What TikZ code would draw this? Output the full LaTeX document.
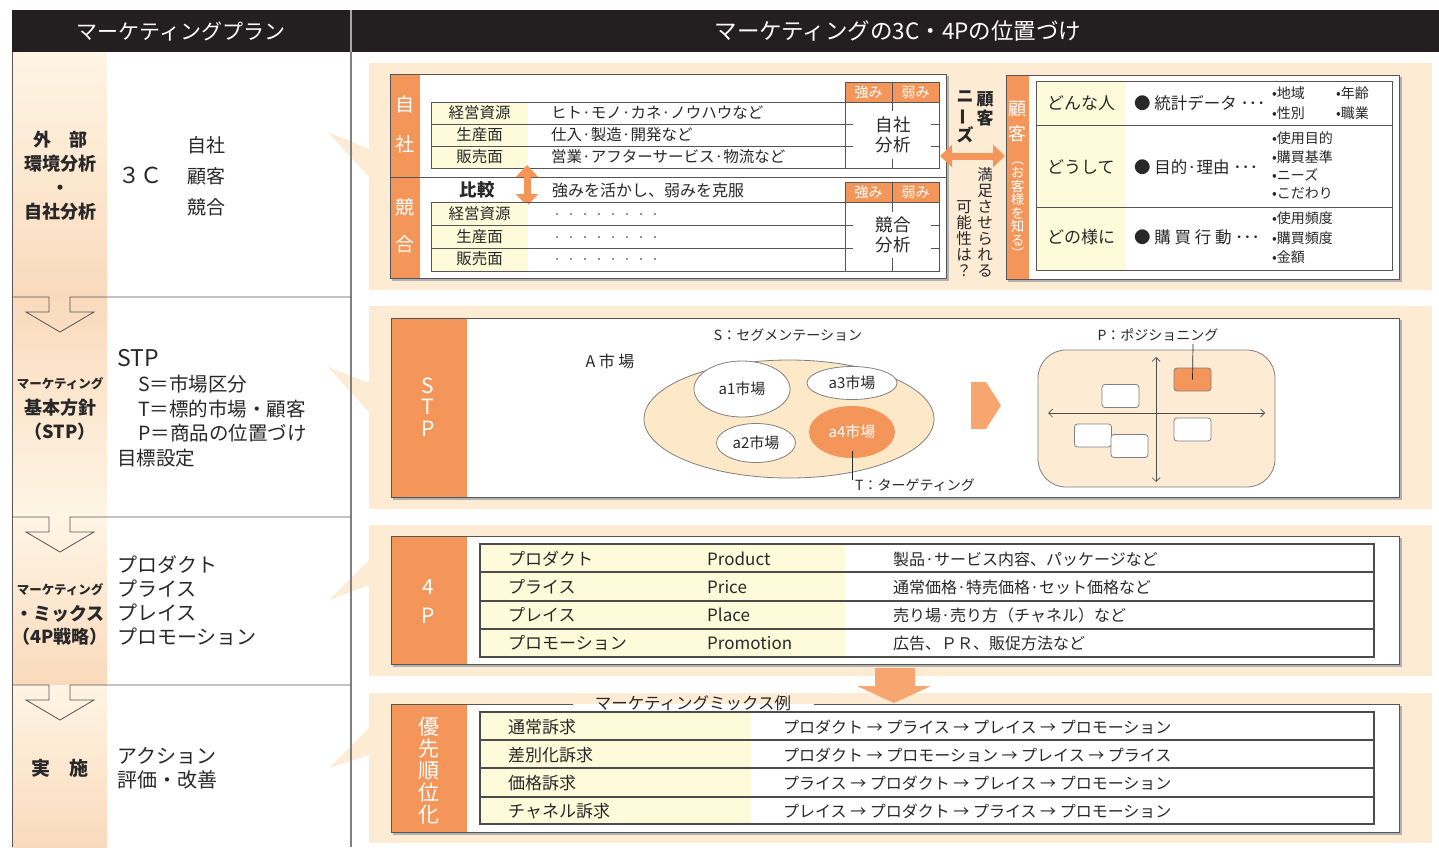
\documentclass[tikz,border=0pt]{standalone}
\usepackage{fontspec}
\setmainfont{Noto Sans CJK JP}
\usetikzlibrary{arrows.meta,shapes.geometric}
\definecolor{org}{RGB}{244,150,90}
\definecolor{orgl}{RGB}{247,166,112}
\definecolor{pch}{RGB}{253,235,212}
\definecolor{ellf}{RGB}{253,232,200}
\definecolor{ylw}{RGB}{254,251,218}
\definecolor{lgry}{RGB}{85,85,85}
\definecolor{hdr}{RGB}{35,31,32}
\definecolor{txt}{RGB}{40,40,40}
\definecolor{gtop}{RGB}{254,245,228}
\definecolor{gbot}{RGB}{250,218,188}
\newcommand{\myvbar}{\rotatebox[origin=c]{90}{ー}}
\tikzset{
  hd/.style={text=white, font=\fontsize{21}{24}\selectfont, inner sep=0pt},
  lab/.style={text=txt, font=\bfseries\fontsize{18}{24}\selectfont, inner sep=0pt, align=center},
  big/.style={text=txt, font=\fontsize{20}{24}\selectfont, inner sep=0pt, anchor=west, align=left},
  tb/.style={text=txt, font=\fontsize{15.5}{18}\selectfont, inner sep=0pt},
  tbw/.style={tb, anchor=west},
  hw/.style={text=white, font=\fontsize{14}{16}\selectfont, inner sep=0pt},
  sm/.style={text=txt, font=\fontsize{14}{16}\selectfont, inner sep=0pt, anchor=west},
  sm2/.style={text=txt, font=\fontsize{14}{16}\selectfont, inner sep=0pt},
  ln/.style={draw=lgry, line width=0.8pt},
  tl/.style={draw=lgry!90!black, line width=1.1pt},
  vw/.style={text=white, inner sep=0pt, align=center},
  mkt/.style={ellipse, draw=gray, line width=0.8pt, fill=white, inner sep=0pt, text=txt, font=\fontsize{15}{17}\selectfont},
  sq/.style={draw=gray, line width=0.8pt, fill=white, rounded corners=3pt, minimum width=37pt, minimum height=23pt, inner sep=0pt},
  shd/.style={draw=gray!60, line width=1.2pt},
  dbl/.style={org, line width=7pt, {Triangle[width=22pt,length=12pt]}-{Triangle[width=22pt,length=12pt]}},
}
\begin{document}
\begin{tikzpicture}[x=1pt,y=-1pt]
\useasboundingbox (0,0) rectangle (1439,847);
\fill[white] (0,0) rectangle (1439,847);

% ---------- header
\fill[hdr] (12,10) rectangle (1439,52);
\draw[gray!70, line width=1.2pt] (351,10) -- (351,52);
\node[hd] (hL) at (181,31) {マーケティングプラン};
\node[hd, font=\fontsize{22.5}{24}\selectfont] (hR) at (898,31) {マーケティングの3C・4Pの位置づけ};

% ---------- left column background
\shade[top color=gtop, bottom color=gbot] (12,52) rectangle (107,297);
\shade[top color=gbot, bottom color=gtop] (12,297) rectangle (107,517);
\shade[top color=gtop, bottom color=gbot] (12,517) rectangle (107,685);
\shade[top color=gtop, bottom color=gbot] (12,685) rectangle (107,847);

% ---------- peach panels
\fill[pch] (369,63) rectangle (1432,290);
\fill[pch] (369,306) rectangle (1432,509);
\fill[pch] (369,525) rectangle (1432,676);
\fill[pch] (369,693) rectangle (1432,843);

% wedges
\fill[pch] (328,132) -- (369,149) -- (369,177) -- cycle;
\fill[pch] (328,367) -- (369,383) -- (369,412) -- cycle;
\fill[pch] (329,600) -- (369,560) -- (369,585) -- cycle;
\fill[pch] (329,768) -- (369,728) -- (369,755) -- cycle;

% left column borders
\draw[lgry, line width=0.8pt] (12,52) -- (12,847);
\draw[gray, line width=1.5pt] (351,52) -- (351,847);
\foreach \y in {297,517,685} {
  \draw[lgry, line width=0.8pt] (12,\y) -- (49,\y) -- (49,\y+15) -- (26,\y+15) -- (60,\y+35) -- (94,\y+15) -- (70,\y+15) -- (70,\y) -- (351,\y);
}

% left column texts
\node[lab] (l1) at (60,176) {外　部\\環境分析\\・\\自社分析};
\node[text=txt, font=\fontsize{22}{24}\selectfont, inner sep=0pt] (c3) at (140,175) {３Ｃ};
\node[lab, font=\fontsize{19}{31}\selectfont] (c3l) at (206,176) {自社\\顧客\\競合};

\node[lab, font=\bfseries\fontsize{12.5}{14}\selectfont] (l2a) at (60,384) {マーケティング};
\node[lab] (l2b) at (60,420) {基本方針\\（STP）};
\node[big, font=\fontsize{23}{26}\selectfont] (s0) at (117,358) {STP};
\node[big, font=\fontsize{19.5}{24.5}\selectfont] (s1) at (138,409) {S＝市場区分\\T＝標的市場・顧客\\P＝商品の位置づけ};
\node[big, font=\fontsize{19.5}{24.5}\selectfont] (s2) at (117,458) {目標設定};

\node[lab, font=\bfseries\fontsize{12.5}{14}\selectfont] (l3a) at (60,590) {マーケティング};
\node[lab, font=\bfseries\fontsize{18}{23}\selectfont] (l3b) at (60,625) {・ミックス\\（4P戦略）};
\node[big] (p4) at (117,601) {プロダクト\\プライス\\プレイス\\プロモーション};

\node[lab, font=\bfseries\fontsize{19}{24}\selectfont] (l4) at (60,768) {実　施};
\node[big] (ac) at (117,768.5) {アクション\\評価・改善};

% ================= Panel 1 : 3C
\draw[shd] (392,280) -- (948,280) -- (948,76);
\draw[ln, fill=white] (390,74) rectangle (946,278);
\fill[org] (390,74) rectangle (420,278);
\draw[ln] (390,74) rectangle (946,278);
\draw[ln] (390,177) -- (946,177);
\node[vw, font=\fontsize{19}{21}\selectfont] (ji) at (405,104) {自};
\node[vw, font=\fontsize{19}{21}\selectfont] (sha) at (405,144) {社};
\node[vw, font=\fontsize{19}{21}\selectfont] (kyo) at (405,207) {競};
\node[vw, font=\fontsize{19}{21}\selectfont] (go) at (405,244) {合};

% table 自社
\fill[ylw] (431,102) rectangle (528,168);
\draw[ln] (431,102) rectangle (939,168);
\draw[ln] (431,124) -- (853,124) (431,146) -- (853,146) (931,124) -- (939,124) (931,146) -- (939,146);
\fill[org] (845,82) rectangle (939,102);
\draw[ln] (845,82) rectangle (939,168);
\draw[ln] (845,102) -- (939,102);
\draw[ln] (892,82) -- (892,111) (892,159) -- (892,168);
\node[hw] (k1) at (868.5,92) {強み};
\node[hw] (y1) at (915.5,92) {弱み};
\node[tb] (r1a) at (479.5,113) {経営資源};
\node[tb] (r1b) at (479.5,135) {生産面};
\node[tb] (r1c) at (479.5,157) {販売面};
\node[tbw] (d1a) at (551,113) {ヒト·モノ·カネ·ノウハウなど};
\node[tbw] (d1b) at (551,135) {仕入·製造·開発など};
\node[tbw] (d1c) at (551,157) {営業·アフターサービス·物流など};
\node[tb, font=\fontsize{17.5}{20}\selectfont, align=center] (an1) at (893,135) {自社\\分析};

% compare row
\node[tb, font=\bfseries\fontsize{17.5}{20}\selectfont] (hik) at (477,190) {比較};
\coordinate (ca) at (527,165);
\coordinate (cb) at (527,206);
\draw[dbl] (ca) -- (cb);
\node[tbw, font=\fontsize{16}{18}\selectfont] (kat) at (552,190) {強みを活かし、弱みを克服};

% table 競合
\fill[ylw] (431,202) rectangle (528,271);
\draw[ln] (431,202) rectangle (939,271);
\draw[ln] (431,225) -- (853,225) (431,248) -- (853,248) (931,225) -- (939,225) (931,248) -- (939,248);
\fill[org] (845,182) rectangle (939,202);
\draw[ln] (845,182) rectangle (939,271);
\draw[ln] (845,202) -- (939,202);
\draw[ln] (892,182) -- (892,212) (892,258) -- (892,271);
\node[hw] (k2) at (868.5,192) {強み};
\node[hw] (y2) at (915.5,192) {弱み};
\node[tb] (r2a) at (479.5,214) {経営資源};
\node[tb] (r2b) at (479.5,237) {生産面};
\node[tb] (r2c) at (479.5,259) {販売面};
\foreach \yy in {214,237,259} {
  \foreach \i in {0,...,7} {
    \fill[txt] (557+14*\i,\yy) circle (0.9pt);
  }
}
\node[tb, font=\fontsize{17.5}{20}\selectfont, align=center] (an2) at (893,235) {競合\\分析};

% customer needs
\node[tb, font=\bfseries\fontsize{17}{19}\selectfont, align=center] (kn1) at (985,109) {顧\\客};
\node[tb, font=\bfseries\fontsize{17}{19}\selectfont, align=center] (kn2) at (965,117) {ニ\\\myvbar\\ズ};
\node[tb, font=\fontsize{15.5}{16}\selectfont, align=center] (mz) at (985,222) {満\\足\\さ\\せ\\ら\\れ\\る};
\node[tb, font=\fontsize{15.5}{16}\selectfont, align=center] (kn3) at (964,239) {可\\能\\性\\は\\？};
\coordinate (ha) at (940,156);
\coordinate (hb) at (1005,156);
\draw[dbl] (ha) -- (hb);

% customer box
\draw[shd] (1008,281) -- (1401,281) -- (1401,77);
\draw[ln, fill=white] (1006,75) rectangle (1399,279);
\fill[org] (1006,75) rectangle (1029,279);
\draw[ln] (1006,75) rectangle (1399,279);
\node[vw, font=\fontsize{18}{25}\selectfont] (kk1) at (1017.5,122) {顧\\客};
\node[vw, font=\fontsize{13.5}{13.5}\selectfont] (kk2) at (1017.5,210) {︵\\お\\客\\様\\を\\知\\る\\︶};
\fill[ylw] (1036,81) rectangle (1126,270);
\draw[ln] (1036,81) rectangle (1392,270);
\draw[ln] (1036,125) -- (1392,125) (1036,207) -- (1392,207);
\node[tbw, font=\fontsize{17}{19}\selectfont] (w1) at (1047,103) {どんな人};
\node[tbw, font=\fontsize{17}{19}\selectfont] (w2) at (1047,167) {どうして};
\node[tbw, font=\fontsize{17}{19}\selectfont] (w3) at (1047,237) {どの様に};
\node[tbw, font=\fontsize{16.5}{19}\selectfont] (v1) at (1134,103) {● 統計データ ･･･};
\node[tbw, font=\fontsize{16.5}{19}\selectfont] (v2) at (1134,167) {● 目的·理由 ･･･};
\node[tbw, font=\fontsize{16.5}{19}\selectfont] (v3) at (1134,237) {● 購 買 行 動 ･･･};
\node[sm] (b1) at (1272,93) {•地域};
\node[sm] (b2) at (1336,93) {•年齢};
\node[sm] (b3) at (1272,113) {•性別};
\node[sm] (b4) at (1336,113) {•職業};
\node[sm] (b5) at (1272,138) {•使用目的};
\node[sm] (b6) at (1272,157) {•購買基準};
\node[sm] (b7) at (1272,175) {•ニーズ};
\node[sm] (b8) at (1272,193) {•こだわり};
\node[sm] (b9) at (1272,218) {•使用頻度};
\node[sm] (b10) at (1272,238) {•購買頻度};
\node[sm] (b11) at (1272,257) {•金額};

% ================= Panel 2 : STP
\draw[shd] (393,499) -- (1401,499) -- (1401,320);
\draw[ln, fill=white] (391,318) rectangle (1399,497);
\fill[org] (391,318) rectangle (467,497);
\draw[ln] (391,318) rectangle (1399,497);
\node[vw, font=\fontsize{21}{21.5}\selectfont] (stp) at (428,407) {S\\T\\P};

\node[sm2] (seg) at (788,335) {S：セグメンテーション};
\node[sm2, font=\fontsize{16}{18}\selectfont] (am) at (610,361) {A 市 場};
\node[ellipse, draw=gray, line width=0.8pt, fill=ellf, minimum width=290pt, minimum height=118pt, inner sep=0pt] (A) at (789,419) {};
\node[mkt, minimum width=96pt, minimum height=56pt] (a1) at (742,389) {a1市場};
\node[mkt, minimum width=90pt, minimum height=33pt] (a3) at (852,383) {a3市場};
\node[mkt, minimum width=79pt, minimum height=39pt] (a2) at (756,443) {a2市場};
\node[mkt, draw=none, fill=org, text=white, minimum width=86pt, minimum height=52pt] (a4) at (852,432) {a4市場};
\coordinate (t0) at (852,451);
\coordinate (t1) at (852,480);
\draw[txt, line width=0.7pt] (t0) -- (t1);
\node[sm2] (tg) at (915,485) {T：ターゲティング};

\fill[orgl] (971,382) -- (986,382) -- (1001,405.5) -- (986,429) -- (971,429) -- cycle;

\node[draw=gray, line width=0.8pt, fill=pch, rounded corners=28pt, minimum width=237pt, minimum height=137pt, inner sep=0pt] (map) at (1156.5,418.5) {};
\coordinate (vt) at (1156,357);
\coordinate (vb) at (1156,482);
\coordinate (hl) at (1048,413);
\coordinate (hr) at (1265,413);
\draw[gray!60!black, line width=0.7pt, {Straight Barb[length=4pt,width=8pt]}-{Straight Barb[length=4pt,width=8pt]}] (vt) -- (vb);
\draw[gray!60!black, line width=0.7pt, {Straight Barb[length=4pt,width=8pt]}-{Straight Barb[length=4pt,width=8pt]}] (hl) -- (hr);
\node[sq] (q1) at (1120.5,396) {};
\node[sq] (q2) at (1093,435.5) {};
\node[sq] (q3) at (1129.5,446) {};
\node[sq] (q4) at (1192.5,429.5) {};
\node[sq, fill=org] (q0) at (1192.5,379.5) {};
\coordinate (pp) at (1193,344);
\draw[txt, line width=0.7pt] (q0.center) -- (pp);
\node[sm2] (pl) at (1158,335) {P：ポジショニング};

% ================= Panel 3 : 4P
\draw[shd] (393,666) -- (1401,666) -- (1401,538);
\draw[ln, fill=white] (391,536) rectangle (1399,664);
\fill[org] (391,536) rectangle (467,664);
\draw[ln] (391,536) rectangle (1399,664);
\node[vw, font=\fontsize{21}{29}\selectfont] (fp) at (428,602) {4\\P};
\fill[ylw] (480,544) rectangle (845,657);
\draw[tl] (480,544) rectangle (1374,657);
\draw[tl] (480,572) -- (1374,572) (480,601) -- (1374,601) (480,629) -- (1374,629);
\node[tbw, font=\fontsize{17}{19}\selectfont] (f1) at (508,559) {プロダクト};
\node[tbw, font=\fontsize{17}{19}\selectfont] (f2) at (508,587) {プライス};
\node[tbw, font=\fontsize{17}{19}\selectfont] (f3) at (508,615) {プレイス};
\node[tbw, font=\fontsize{17}{19}\selectfont] (f4) at (508,643) {プロモーション};
\node[tbw, font=\fontsize{17}{19}\selectfont] (e1) at (707,559) {Product};
\node[tbw, font=\fontsize{17}{19}\selectfont] (e2) at (707,587) {Price};
\node[tbw, font=\fontsize{17}{19}\selectfont] (e3) at (707,615) {Place};
\node[tbw, font=\fontsize{17}{19}\selectfont] (e4) at (707,643) {Promotion};
\node[tbw, font=\fontsize{16}{18}\selectfont] (g1) at (893,559) {製品·サービス内容、パッケージなど};
\node[tbw, font=\fontsize{16}{18}\selectfont] (g2) at (893,587) {通常価格·特売価格·セット価格など};
\node[tbw, font=\fontsize{16}{18}\selectfont] (g3) at (893,615) {売り場·売り方（チャネル）など};
\node[tbw, font=\fontsize{16}{18}\selectfont] (g4) at (893,643) {広告、ＰＲ、販促方法など};

% ================= Panel 4 : mix
\draw[shd] (393,834) -- (1401,834) -- (1401,706);
\fill[white] (391,704) rectangle (1399,832);
\fill[org] (391,704) rectangle (467,832);
\draw[ln] (573,704) -- (391,704) -- (391,832) -- (1399,832) -- (1399,704) -- (814,704);
\node[tb, font=\fontsize{16.5}{18}\selectfont] (mx) at (693,703) {マーケティングミックス例};
\node[vw, font=\fontsize{21}{22}\selectfont] (yu) at (429,771) {優\\先\\順\\位\\化};
\fill[ylw] (480,712) rectangle (751,824);
\draw[tl] (480,712) rectangle (1374,824);
\draw[tl] (480,740) -- (1374,740) (480,768) -- (1374,768) (480,797) -- (1374,797);
\node[tbw, font=\fontsize{17}{19}\selectfont] (m1) at (508,727) {通常訴求};
\node[tbw, font=\fontsize{17}{19}\selectfont] (m2) at (508,755) {差別化訴求};
\node[tbw, font=\fontsize{17}{19}\selectfont] (m3) at (508,783) {価格訴求};
\node[tbw, font=\fontsize{17}{19}\selectfont] (m4) at (508,811) {チャネル訴求};
\node[tbw, font=\fontsize{16}{18}\selectfont] (o1) at (783,727) {プロダクト → プライス → プレイス → プロモーション};
\node[tbw, font=\fontsize{16}{18}\selectfont] (o2) at (783,755) {プロダクト → プロモーション → プレイス → プライス};
\node[tbw, font=\fontsize{16}{18}\selectfont] (o3) at (783,783) {プライス → プロダクト → プレイス → プロモーション};
\node[tbw, font=\fontsize{16}{18}\selectfont] (o4) at (783,811) {プレイス → プロダクト → プライス → プロモーション};

% down arrow between 4P and mix
\fill[orgl] (875,668) -- (915,668) -- (915,686) -- (931,686) -- (894,703) -- (857,686) -- (875,686) -- cycle;
\end{tikzpicture}
\end{document}
